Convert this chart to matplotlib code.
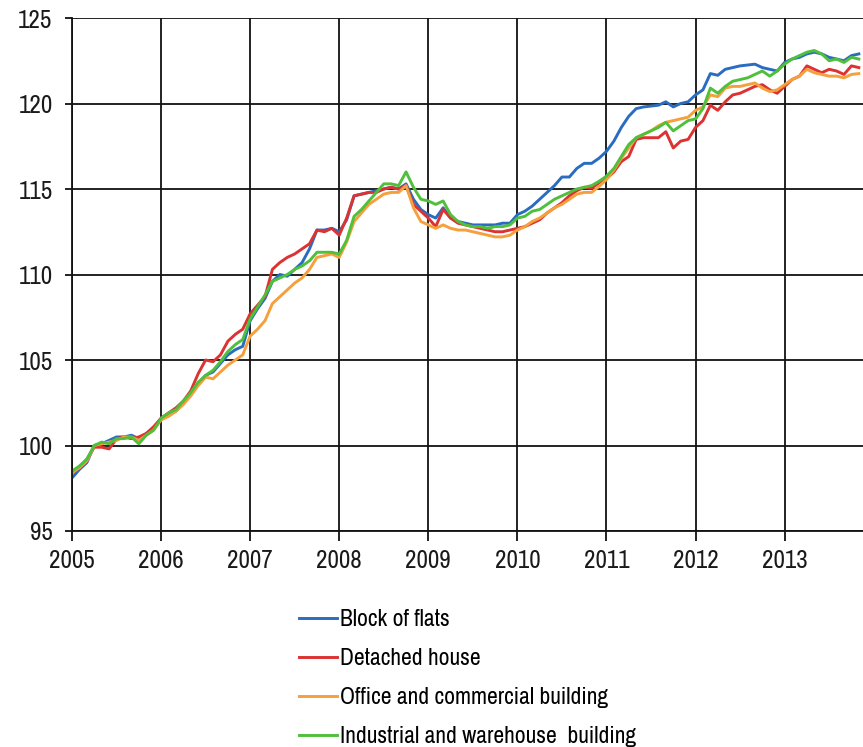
import numpy as np
import matplotlib
matplotlib.use("Agg")
import matplotlib.pyplot as plt
from matplotlib import font_manager

start_year = 2005
year_ticks = [2005, 2006, 2007, 2008, 2009, 2010, 2011, 2012, 2013]
y_ticks = [95, 100, 105, 110, 115, 120, 125]
series_names = ["Block of flats", "Detached house",
                "Office and commercial building", "Industrial and warehouse  building"]

block_of_flats = [
    98.1, 98.6, 99.0, 100.0, 100.1, 100.3, 100.5, 100.5, 100.6, 100.4, 100.7, 101.0,
    101.5, 101.8, 102.0, 102.5, 103.0, 103.6, 104.1, 104.3, 104.8, 105.3, 105.6, 105.8,
    107.3, 108.0, 108.6, 109.6, 110.0, 109.9, 110.3, 110.7, 111.5, 112.6, 112.6, 112.7,
    112.5, 113.2, 114.6, 114.7, 114.8, 114.9, 115.0, 115.1, 115.0, 115.3, 114.4, 113.8,
    113.5, 113.3, 113.9, 113.3, 113.1, 113.0, 112.9, 112.9, 112.9, 112.9, 113.0, 113.0,
    113.5, 113.7, 114.0, 114.4, 114.8, 115.2, 115.7, 115.7, 116.2, 116.5, 116.5, 116.8,
    117.2, 117.8, 118.6, 119.25, 119.7, 119.8, 119.85, 119.9, 120.1, 119.8, 120.0, 120.1,
    120.5, 120.8, 121.75, 121.65, 122.0, 122.1, 122.2, 122.25, 122.3, 122.1, 122.0, 121.9,
    122.4, 122.6, 122.7, 122.9, 123.0, 122.9, 122.7, 122.6, 122.5, 122.8, 122.9,
]
detached_house = [
    98.4, 98.7, 99.2, 99.9, 99.9, 99.8, 100.4, 100.5, 100.4, 100.5, 100.7, 101.1,
    101.6, 101.9, 102.2, 102.6, 103.2, 104.2, 105.0, 104.9, 105.3, 106.1, 106.5, 106.8,
    107.7, 108.2, 108.7, 110.3, 110.7, 111.0, 111.2, 111.5, 111.8, 112.6, 112.5, 112.7,
    112.3, 113.3, 114.6, 114.7, 114.8, 114.8, 115.0, 115.1, 115.0, 115.2, 114.1, 113.7,
    113.3, 112.8, 113.8, 113.3, 113.0, 112.9, 112.8, 112.7, 112.6, 112.5, 112.5, 112.6,
    112.7, 112.8, 113.0, 113.2, 113.6, 113.9, 114.2, 114.6, 114.9, 115.1, 115.05, 115.35,
    115.6, 116.0, 116.6, 116.9, 117.9, 118.0, 118.0, 118.0, 118.35, 117.4, 117.8, 117.9,
    118.6, 119.0, 119.9, 119.6, 120.1, 120.5, 120.6, 120.8, 121.0, 121.1, 120.8, 120.6,
    121.0, 121.4, 121.6, 122.2, 122.0, 121.8, 122.0, 121.9, 121.7, 122.2, 122.1,
]
office_commercial = [
    98.4, 98.7, 99.1, 100.0, 100.1, 100.2, 100.3, 100.5, 100.5, 100.3, 100.6, 100.9,
    101.5, 101.7, 102.0, 102.4, 102.9, 103.5, 104.0, 103.9, 104.3, 104.7, 105.0, 105.3,
    106.4, 106.8, 107.3, 108.3, 108.7, 109.1, 109.5, 109.8, 110.3, 111.0, 111.1, 111.2,
    111.0, 111.9, 113.1, 113.6, 114.1, 114.4, 114.7, 114.8, 114.8, 115.2, 113.9, 113.1,
    112.9, 112.7, 112.9, 112.7, 112.6, 112.6, 112.5, 112.4, 112.3, 112.2, 112.2, 112.3,
    112.6, 112.8, 113.1, 113.3, 113.6, 113.9, 114.1, 114.4, 114.7, 114.8, 114.8, 115.15,
    115.55, 116.1, 116.8, 117.4, 118.0, 118.2, 118.4, 118.7, 118.9, 119.0, 119.1, 119.2,
    119.6, 119.8, 120.5, 120.4, 120.9, 121.0, 121.0, 121.1, 121.2, 120.9, 120.7, 120.8,
    121.1, 121.4, 121.6, 122.0, 121.8, 121.7, 121.6, 121.6, 121.5, 121.7, 121.75,
]
industrial_warehouse = [
    98.5, 98.8, 99.2, 100.0, 100.2, 100.1, 100.4, 100.4, 100.5, 100.1, 100.6, 100.9,
    101.6, 101.9, 102.1, 102.6, 103.1, 103.7, 104.1, 104.4, 104.9, 105.5, 105.9, 106.2,
    107.4, 108.1, 108.8, 109.6, 109.8, 110.0, 110.3, 110.5, 110.8, 111.3, 111.3, 111.3,
    111.2, 112.0, 113.4, 113.8, 114.3, 114.8, 115.3, 115.3, 115.2, 116.0, 115.1, 114.4,
    114.3, 114.1, 114.3, 113.5, 113.1, 112.9, 112.8, 112.8, 112.7, 112.8, 112.8, 112.9,
    113.3, 113.4, 113.7, 113.8, 114.1, 114.4, 114.6, 114.8, 115.0, 115.1, 115.2, 115.45,
    115.75, 116.2, 116.9, 117.6, 118.0, 118.2, 118.4, 118.6, 118.9, 118.4, 118.7, 119.0,
    119.1, 119.7, 120.9, 120.6, 121.0, 121.3, 121.4, 121.5, 121.7, 121.9, 121.6, 121.9,
    122.3, 122.6, 122.8, 123.0, 123.1, 122.9, 122.5, 122.6, 122.4, 122.7, 122.6,
]

colors = ["#2a6cc0", "#dc3232", "#f5a03c", "#4fc03c"]

# pick a narrow font if one is installed
font_kw = {"family": ["Liberation Sans", "DejaVu Sans"]}
entries = font_manager.fontManager.ttflist
narrow = [f for f in entries if "Narrow" in f.name and f.weight in (400, "normal", "regular")]
cond = [f for f in entries if f.name == "DejaVu Sans" and str(f.stretch) in ("condensed", "semi-condensed")
        and f.style == "normal" and f.weight in (400, "normal", "book")]
if narrow:
    font_kw = {"family": [narrow[0].name, "DejaVu Sans"]}
elif cond:
    font_kw = {"family": ["DejaVu Sans"], "stretch": "condensed"}
plt.rcParams["font.family"] = font_kw["family"]
if "stretch" in font_kw:
    plt.rcParams["font.stretch"] = font_kw["stretch"]

fig = plt.figure(figsize=(8.63, 7.47), dpi=100)
ax = fig.add_axes([72 / 863, (747 - 531) / 747, (863 - 72) / 863, (531 - 18) / 747])

all_series = [block_of_flats, detached_house, office_commercial, industrial_warehouse]
handles = []
for name, vals, c in zip(series_names, all_series, colors):
    x = start_year + np.arange(len(vals)) / 12.0
    h, = ax.plot(x, vals, color=c, lw=2.1, label=name, solid_joinstyle="round")
    handles.append(h)

ax.set_xlim(2005, 2013.88)
ax.set_ylim(95, 125)
ax.set_xticks(year_ticks)
ax.set_xticklabels([str(y) for y in year_ticks])
ax.set_yticks(y_ticks)
ax.grid(True, color="#111111", lw=1.3)
ax.set_axisbelow(True)
for s in ["right", "top"]:
    ax.spines[s].set_visible(False)
for s in ["left", "bottom"]:
    ax.spines[s].set_color("#111111")
    ax.spines[s].set_linewidth(1.3)
ax.tick_params(axis="both", width=1.3, color="#111111",
               labelsize=18, labelcolor="#1a1a1a")
ax.tick_params(axis="y", length=5, pad=9)
ax.tick_params(axis="x", length=7, pad=6)

fig.legend(handles=handles, labels=series_names, loc="upper left",
           bbox_to_anchor=(299 / 863, 1 - 609 / 747), frameon=False,
           fontsize=17, handlelength=1.6, handletextpad=0.15,
           labelspacing=0.76, borderaxespad=0, borderpad=0)

fig.savefig("out.png", dpi=100)
